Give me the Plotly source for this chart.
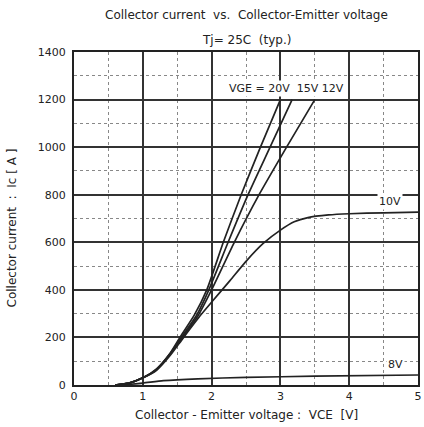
import plotly.graph_objects as go

# VCE [V] / Ic [A]
vce_20 = [0.6, 0.8, 1.0, 1.2, 1.4, 1.55, 1.75, 1.93, 2.17, 2.43, 2.71, 3.00]
ic_20 = [0, 8, 30, 68, 135, 205, 295, 400, 600, 800, 1000, 1200]
vce_15 = [0.6, 0.8, 1.0, 1.2, 1.4, 1.56, 1.78, 1.96, 2.24, 2.53, 2.85, 3.17]
ic_15 = [0, 8, 30, 66, 133, 200, 292, 400, 600, 800, 1000, 1200]
vce_12 = [0.6, 0.8, 1.0, 1.2, 1.4, 1.57, 1.80, 2.00, 2.33, 2.69, 3.09, 3.50]
ic_12 = [0, 8, 30, 65, 130, 198, 290, 400, 600, 800, 1000, 1200]
vce_10 = [0.6, 0.8, 1.0, 1.2, 1.4, 1.58, 1.83, 2.02, 2.27, 2.51, 2.75, 3.00, 3.20, 3.40, 3.70, 4.00, 4.50, 5.00]
ic_10 = [0, 8, 30, 62, 125, 195, 290, 355, 440, 523, 595, 651, 686, 704, 715, 720, 724, 727]
vce_8 = [0.7, 1.0, 1.3, 1.8, 2.5, 3.5, 5.0]
ic_8 = [0, 8, 18, 26, 32, 37, 42]

x_ticks = [0, 1, 2, 3, 4, 5]
y_ticks = [0, 200, 400, 600, 800, 1000, 1200, 1400]

FONT = "DejaVu Sans, Liberation Sans, sans-serif"
INK = "#222222"

fig = go.Figure()
for vx, iy in [(vce_20, ic_20), (vce_15, ic_15), (vce_12, ic_12), (vce_10, ic_10), (vce_8, ic_8)]:
    fig.add_trace(go.Scatter(x=vx, y=iy, mode="lines",
                             line=dict(color=INK, width=1.7, shape="spline", smoothing=0.6),
                             showlegend=False, hoverinfo="skip"))

fig.update_layout(
    width=424, height=427,
    margin=dict(l=74, r=6, t=52, b=42),
    paper_bgcolor="white", plot_bgcolor="white",
    font=dict(family=FONT, size=11, color=INK),
    showlegend=False,
)
fig.update_xaxes(
    range=[0, 5], tickvals=x_ticks, ticktext=[str(v) for v in x_ticks],
    showgrid=True, gridcolor="#333333", gridwidth=1.5,
    showline=True, linecolor="#222222", linewidth=2, mirror=True,
    zeroline=False, ticks="", tickfont=dict(size=11), automargin=False,
    ticklabeloverflow="allow",
    minor=dict(dtick=0.5, showgrid=True, gridcolor="#888888", griddash="dot", gridwidth=1),
)
fig.update_yaxes(
    range=[0, 1400], tickvals=y_ticks, ticktext=[str(v) for v in y_ticks],
    showgrid=True, gridcolor="#333333", gridwidth=1.5,
    showline=True, linecolor="#222222", linewidth=2, mirror=True,
    zeroline=False, ticks="", tickfont=dict(size=11), automargin=False,
    ticklabeloverflow="allow", ticklabelstandoff=4,
    minor=dict(dtick=100, showgrid=True, gridcolor="#888888", griddash="dot", gridwidth=1),
)

fig.add_annotation(text="Collector current  vs.  Collector-Emitter voltage", xref="paper", yref="paper",
                   x=0.5, y=1.0, yshift=37, showarrow=False, font=dict(size=12), xanchor="center", yanchor="middle")
fig.add_annotation(text="Tj= 25C  (typ.)", xref="paper", yref="paper",
                   x=0.5, y=1.0, yshift=12, showarrow=False, font=dict(size=12), xanchor="center", yanchor="middle")
fig.add_annotation(text="Collector - Emitter voltage :  VCE  [V]", xref="paper", yref="paper",
                   x=0.5, y=0.0, yshift=-30, showarrow=False, font=dict(size=12), xanchor="center", yanchor="middle")
fig.add_annotation(text="Collector current  :  Ic [ A ]", xref="paper", yref="paper", textangle=-90,
                   x=0.0, xshift=-62, y=0.47, showarrow=False, font=dict(size=12), xanchor="center", yanchor="middle")
fig.add_annotation(text="VGE = 20V  15V 12V", x=2.23, y=1245, xanchor="left", yanchor="middle",
                   showarrow=False, font=dict(size=11), bgcolor="white")
fig.add_annotation(text="10V", x=4.6, y=770, xanchor="center", yanchor="middle",
                   showarrow=False, font=dict(size=11), bgcolor="white")
fig.add_annotation(text="8V", x=4.68, y=88, xanchor="center", yanchor="middle",
                   showarrow=False, font=dict(size=11), bgcolor="white")

# remove the default page margin so the 424x427 figure fills the window exactly
fig.write_html("out.html", config={"displayModeBar": False},
               post_script="document.body.style.margin='0';document.body.style.overflow='hidden';")
